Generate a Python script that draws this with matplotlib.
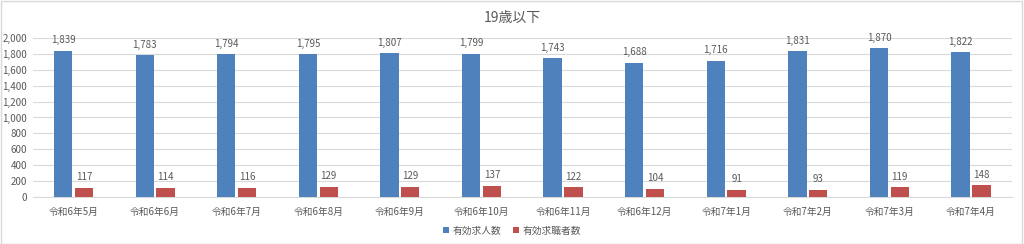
import matplotlib
matplotlib.use("Agg")
import matplotlib.pyplot as plt
import numpy as np

plt.rcParams['font.family'] = ['Noto Sans CJK JP', 'DejaVu Sans']

title = "19歳以下"
categories = ["令和6年5月", "令和6年6月", "令和6年7月", "令和6年8月", "令和6年9月", "令和6年10月",
              "令和6年11月", "令和6年12月", "令和7年1月", "令和7年2月", "令和7年3月", "令和7年4月"]
series_names = ["有効求人数", "有効求職者数"]
job_offers = [1839, 1783, 1794, 1795, 1807, 1799, 1743, 1688, 1716, 1831, 1870, 1822]
job_seekers = [117, 114, 116, 129, 129, 137, 122, 104, 91, 93, 119, 148]
yticks = [0, 200, 400, 600, 800, 1000, 1200, 1400, 1600, 1800, 2000]

blue = "#4f81bd"
red = "#c0504d"
txt = "#595959"

fig = plt.figure(figsize=(10.24, 2.44), dpi=100)
fig.patch.set_facecolor("white")
fig.add_artist(plt.Rectangle((0.001, 0.002), 0.997, 0.994, transform=fig.transFigure,
                             fill=False, edgecolor="#d9d9d9", linewidth=1.0))

ax = fig.add_axes([0.032, 0.193, 0.956, 0.651])
x = np.arange(len(categories))
w = 0.225
gap = 0.03
b1 = ax.bar(x - (w + gap) / 2, job_offers, w, color=blue, label=series_names[0], zorder=3)
b2 = ax.bar(x + (w + gap) / 2, job_seekers, w, color=red, label=series_names[1], zorder=3)

for bars, vals in ((b1, job_offers), (b2, job_seekers)):
    for r, v in zip(bars, vals):
        ax.annotate(f"{v:,}", (r.get_x() + r.get_width() / 2, v), xytext=(0, 4),
                    textcoords="offset points", ha="center", va="bottom",
                    fontsize=7, color=txt)

ax.set_xlim(-0.5, len(categories) - 0.5)
ax.set_ylim(0, 2000)
ax.set_yticks(yticks)
ax.set_yticklabels([f"{v:,}" for v in yticks])
ax.set_xticks(x)
ax.set_xticklabels(categories)
ax.tick_params(axis="both", length=0, labelsize=7, colors=txt)
ax.tick_params(axis="x", pad=7)
ax.tick_params(axis="y", pad=4)
ax.yaxis.grid(True, color="#d9d9d9", linewidth=0.8, zorder=0)
for s in ["top", "right", "left"]:
    ax.spines[s].set_visible(False)
ax.spines["bottom"].set_color("#d9d9d9")

fig.text(0.5, 0.925, title, ha="center", va="center", fontsize=10, color=txt)
fig.legend(handles=[b1, b2], loc="center", bbox_to_anchor=(0.5, 0.055), ncol=2,
           frameon=False, fontsize=7, labelcolor=txt, handlelength=0.6, handleheight=0.6,
           handletextpad=0.4, columnspacing=1.2)

fig.savefig("out.png", dpi=100, facecolor="white")
